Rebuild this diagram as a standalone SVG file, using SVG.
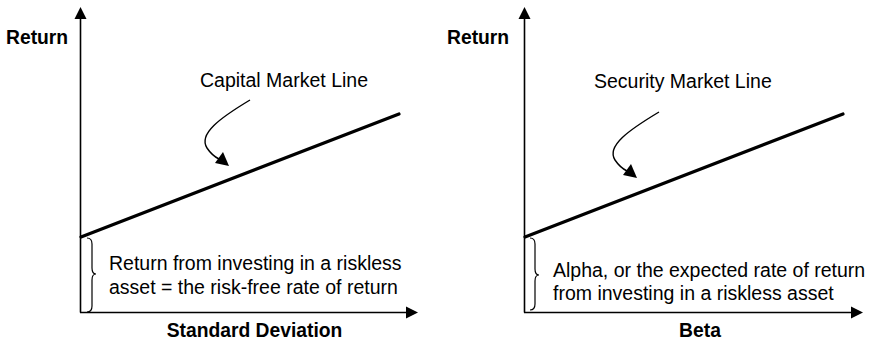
<svg xmlns="http://www.w3.org/2000/svg" width="874" height="341" viewBox="0 0 874 341">
<defs>
<style>
.ax{stroke:#000;stroke-width:1.6;fill:none}
.ml{stroke:#000;stroke-width:3.2;fill:none;stroke-linecap:round}
.cv{stroke:#000;stroke-width:1.4;fill:none}
.br{stroke:#000;stroke-width:1.2;fill:none}
.hd{fill:#000}
.t{font-family:"Liberation Sans",Arial,sans-serif;font-size:19.5px;fill:#000}
.b{font-family:"Liberation Sans",Arial,sans-serif;font-size:19.3px;font-weight:bold;fill:#000}
</style>
</defs>
<g id="left-chart">
<g id="left-axes">
<line class="ax" x1="80.5" y1="18" x2="80.5" y2="312.5"/>
<line class="ax" x1="80" y1="312.5" x2="406" y2="312.5"/>
<polygon class="hd" points="80.5,7 74.5,19 86.5,19"/>
<polygon class="hd" points="418,312.5 406,306.5 406,318.5"/>
</g>
<g id="left-labels">
<text class="b" x="6" y="44">Return</text>
<text class="b" x="254.5" y="337" text-anchor="middle">Standard Deviation</text>
</g>
<g id="cml">
<line class="ml" x1="81" y1="237" x2="399" y2="114"/>
<text class="t" x="200" y="87">Capital Market Line</text>
</g>
<g id="left-riskless">
<path class="br" d="M87,238 Q92,238 92,244 L92,268 Q92,274 96,274 Q92,274 92,280 L92,306 Q92,312 87,312"/>
<text class="t" x="109" y="270">Return from investing in a riskless</text>
<text class="t" x="109" y="293.5">asset = the risk-free rate of return</text>
</g>
</g>
<g id="right-chart">
<g id="right-axes">
<line class="ax" x1="524.5" y1="18" x2="524.5" y2="312.5"/>
<line class="ax" x1="524" y1="312.5" x2="851" y2="312.5"/>
<polygon class="hd" points="524.5,7 518.5,19 530.5,19"/>
<polygon class="hd" points="863,312.5 851,306.5 851,318.5"/>
</g>
<g id="right-labels">
<text class="b" x="447" y="44">Return</text>
<text class="b" x="700" y="337" text-anchor="middle">Beta</text>
</g>
<g id="sml">
<line class="ml" x1="525" y1="237" x2="843" y2="114"/>
<text class="t" x="594" y="88">Security Market Line</text>
</g>
<g id="right-riskless">
<path class="br" d="M530,238 Q535,238 535,244 L535,269 Q535,275 539,275 Q535,275 535,281 L535,304 Q535,310 530,310"/>
<text class="t" x="553" y="277">Alpha, or the expected rate of return</text>
<text class="t" x="553" y="300">from investing in a riskless asset</text>
</g>
</g>
<g id="connectors">
<path class="cv" d="M250,100 C220,118 198,134 207,148 C211,154 215,157 219,159"/>
<polygon class="hd" points="229,166 215,163 223,152"/>
<path class="cv" d="M659,112 C629,130 606,146 615,160 C619,166 623,169 627,171"/>
<polygon class="hd" points="637,178 623,175 631,164"/>
</g>
</svg>
